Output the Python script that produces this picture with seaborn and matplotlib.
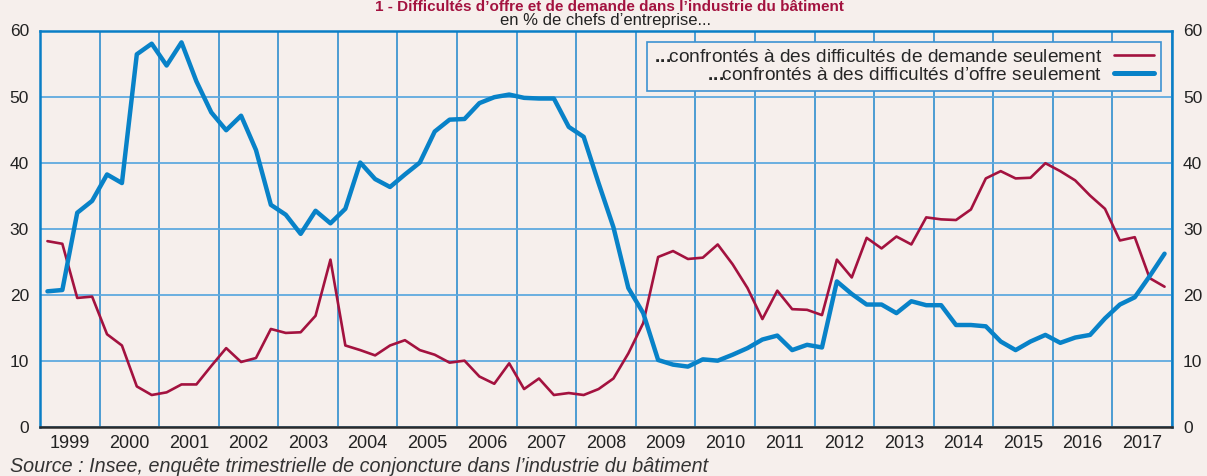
import matplotlib
matplotlib.use("Agg")
import matplotlib.pyplot as plt
import numpy as np
import pandas as pd
import seaborn as sns
from matplotlib.lines import Line2D
from matplotlib.ticker import FixedLocator, NullFormatter, FixedFormatter

# quarterly survey, 1999Q1 .. 2017Q4
years = list(range(1999, 2018))
demand = [28.1, 27.7, 19.5, 19.7, 14.0, 12.3, 6.1, 4.8, 5.2, 6.4, 6.4, 9.2,
          11.9, 9.8, 10.4, 14.8, 14.2, 14.3, 16.8, 25.3, 12.3, 11.6, 10.8, 12.3,
          13.1, 11.6, 10.9, 9.7, 10.0, 7.6, 6.5, 9.6, 5.7, 7.3, 4.8, 5.1,
          4.8, 5.7, 7.3, 11.1, 15.7, 25.7, 26.6, 25.4, 25.6, 27.6, 24.6, 21.0,
          16.3, 20.6, 17.8, 17.7, 16.9, 25.3, 22.6, 28.6, 27.0, 28.8, 27.6, 31.7,
          31.4, 31.3, 32.9, 37.6, 38.7, 37.6, 37.7, 39.9, 38.7, 37.3, 35.0, 33.0,
          28.2, 28.7, 22.5, 21.2]
supply = [20.5, 20.7, 32.4, 34.2, 38.2, 36.9, 56.4, 58.0, 54.7, 58.2, 52.3, 47.6,
          44.9, 47.1, 41.9, 33.6, 32.1, 29.2, 32.7, 30.8, 33.0, 40.0, 37.5, 36.3,
          38.2, 40.0, 44.7, 46.5, 46.6, 49.0, 49.9, 50.3, 49.8, 49.7, 49.7, 45.4,
          43.9, 36.9, 30.2, 21.0, 17.2, 10.1, 9.4, 9.1, 10.2, 10.0, 10.9, 11.9,
          13.2, 13.8, 11.6, 12.4, 12.0, 22.0, 20.1, 18.5, 18.5, 17.2, 19.0, 18.4,
          18.4, 15.4, 15.4, 15.2, 12.9, 11.6, 12.9, 13.9, 12.7, 13.5, 13.9, 16.4,
          18.5, 19.6, 22.8, 26.2]
y_ticks = [0, 10, 20, 30, 40, 50, 60]
dots = r"$\mathbf{.\!.\!.}\!\!$"
label_demand = dots + "confrontés à des difficultés de demande seulement"
label_supply = dots + "confrontés à des difficultés d’offre seulement"

red = "#A3123F"
blue = "#0882C8"
bg = "#F6EFEC"

df = pd.DataFrame({
    "year": np.repeat(years, 4),
    "quarter": np.tile([1, 2, 3, 4], len(years)),
    "demand": demand,
    "supply": supply,
})
df["date"] = df["year"] + (df["quarter"] - 0.5) / 4

sns.set_style("white")
plt.rcParams["font.family"] = ["Liberation Sans", "DejaVu Sans"]
plt.rcParams["mathtext.fontset"] = "custom"
plt.rcParams["mathtext.bf"] = "Liberation Sans:bold"
plt.rcParams["mathtext.rm"] = "Liberation Sans"

fig = plt.figure(figsize=(12.07, 4.76), dpi=100, facecolor=bg)
ax = fig.add_axes([40 / 1207, 1 - 426.7 / 476, 1132 / 1207, 396.2 / 476])
ax.set_facecolor(bg)

sns.lineplot(data=df, x="date", y="demand", ax=ax, color=red, lw=1.9, zorder=4)
sns.lineplot(data=df, x="date", y="supply", ax=ax, color=blue, lw=3.2, zorder=5)

ax.set_xlim(years[0], years[-1] + 1)
ax.set_ylim(0, 60)
ax.set_xlabel("")
ax.set_ylabel("")

# year boundaries carry the grid, year centres carry the labels
ax.xaxis.set_major_locator(FixedLocator([y for y in years] + [years[-1] + 1]))
ax.xaxis.set_major_formatter(NullFormatter())
ax.xaxis.set_minor_locator(FixedLocator([y + 0.5 for y in years]))
ax.xaxis.set_minor_formatter(FixedFormatter([str(y) for y in years]))
ax.tick_params(axis="x", which="both", length=0, pad=6, labelsize=13, labelcolor="#222222")
ax.xaxis.grid(True, which="major", color="#1E86CC", lw=1.1)

ax.set_yticks(y_ticks)
ax.yaxis.grid(True, color="#5FAADF", lw=1.3)
ax.tick_params(axis="y", length=0, pad=8, labelsize=12.5, labelcolor="#222222",
               labelleft=True, labelright=True)
ax.set_axisbelow(True)

for side in ["top", "left", "right"]:
    ax.spines[side].set_visible(True)
    ax.spines[side].set_color("#0A7EC6")
    ax.spines[side].set_linewidth(1.8)
ax.spines["bottom"].set_visible(True)
ax.spines["bottom"].set_color("#2A2A2A")
ax.spines["bottom"].set_linewidth(1.8)

handles = [Line2D([], [], color=red, lw=1.9), Line2D([], [], color=blue, lw=3.6)]
leg = ax.legend(handles, [label_demand, label_supply], loc="upper right",
                bbox_to_anchor=(0.990, 0.972), markerfirst=False, fontsize=13.8,
                handlelength=2.1, handletextpad=0.6, labelspacing=0.05,
                borderpad=0.35, borderaxespad=0, fancybox=False, framealpha=1,
                facecolor=bg, edgecolor="#3C92D2")
leg.get_frame().set_linewidth(1.2)
leg.set_zorder(10)

fig.text(0.505, 1 - 11 / 476, "1 - Difficultés d’offre et de demande dans l’industrie du bâtiment",
         ha="center", va="baseline", fontsize=11, fontweight="bold", color="#A3123F")
fig.text(606 / 1207, 1 - 21 / 476, "en % de chefs d’entreprise...",
         ha="center", va="center", fontsize=12, color="#222222")
fig.text(10 / 1207, 1 - 466 / 476,
         "Source : Insee, enquête trimestrielle de conjoncture dans l’industrie du bâtiment",
         ha="left", va="center", fontsize=14.2, style="italic", color="#333333")

fig.savefig("out.png", dpi=100, facecolor=bg)
